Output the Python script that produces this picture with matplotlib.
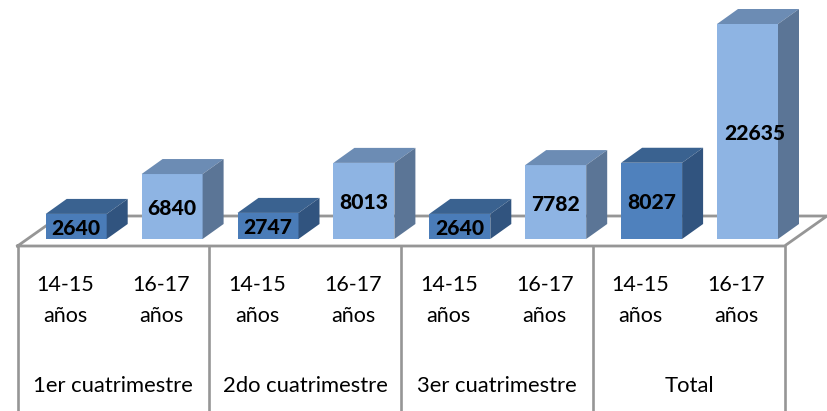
import matplotlib
matplotlib.use('Agg')
import matplotlib.pyplot as plt
from matplotlib.patches import Polygon

# Values
values = [2640, 6840, 2747, 8013, 2640, 7782, 8027, 22635]
age_labels = ['14-15\naños', '16-17\naños'] * 4
group_labels = ['1er cuatrimestre', '2do cuatrimestre', '3er cuatrimestre', 'Total']

W, H = 827, 411
BASE_Y = 239          # pixel row of value 0
UNITS_PER_PX = 22635 / 215.0
BAR_W = 61
FIRST_X = 76.2
STEP = 95.9
DX, DY = 21, 15       # 3d depth in pixels
GREY = '#969696'

def px(row):
    # pixel row (from the top) to value axis
    return (BASE_Y - row) * UNITS_PER_PX

def dy_units(pixels):
    return pixels * UNITS_PER_PX

def bar_colors(i):
    # front, top, side
    if i % 2 == 1:
        return '#8EB4E3', '#6C8CB4', '#5B7596'
    if i == 6:
        return '#4F81BD', '#3A6290', '#31547F'
    return '#4A7CB8', '#3A6290', '#31547F'

fig = plt.figure(figsize=(W / 100, H / 100), dpi=100)
ax = fig.add_axes([0, 0, 1, 1])
ax.set_xlim(0, W)
ax.set_ylim(px(H), px(0))
ax.axis('off')

# floor of the 3d chart
floor_x = [17.5, 60, 827, 784.5, 17.5]
floor_y = [246, 216, 216, 246, 246]
ax.plot(floor_x, [px(r) for r in floor_y], color=GREY, lw=2.0, zorder=1, solid_joinstyle='miter')

# table lines under the chart
for x in [17.5, 209, 400.5, 592.5, 784.5]:
    ax.plot([x, x], [px(246), px(H)], color=GREY, lw=1.9, zorder=1)

positions = [FIRST_X + STEP * i for i in range(len(values))]

for i, (x, v) in enumerate(zip(positions, values)):
    front, top, side = bar_colors(i)
    ax.bar(x, v, width=BAR_W, color=front, zorder=3 + i)
    left, right = x - BAR_W / 2, x + BAR_W / 2
    ax.add_patch(Polygon([(left, v), (right, v), (right + DX, v + dy_units(DY)), (left + DX, v + dy_units(DY))],
                         facecolor=top, edgecolor='none', zorder=3 + i))
    ax.add_patch(Polygon([(right, 0), (right + DX, dy_units(DY)), (right + DX, v + dy_units(DY)), (right, v)],
                         facecolor=side, edgecolor='none', zorder=3 + i))
    off = 7 if v > 20000 else 0
    ax.text(x + off, v / 2 - dy_units(2), str(v), ha='center', va='center', fontsize=15.2,
            fontweight='black', family='Lato', color='black', zorder=20)

# category labels
for x, label in zip(positions, age_labels):
    ax.text(x - 11, px(300.5), label, ha='center', va='center', fontsize=15.5, family='Lato',
            color='#000000', linespacing=1.72)

group_x = [113, 305, 497, 689]
for x, label in zip(group_x, group_labels):
    ax.text(x, px(385.5), label, ha='center', va='center', fontsize=15.8, family='Lato', color='#000000')

plt.savefig('out.png', dpi=100)
